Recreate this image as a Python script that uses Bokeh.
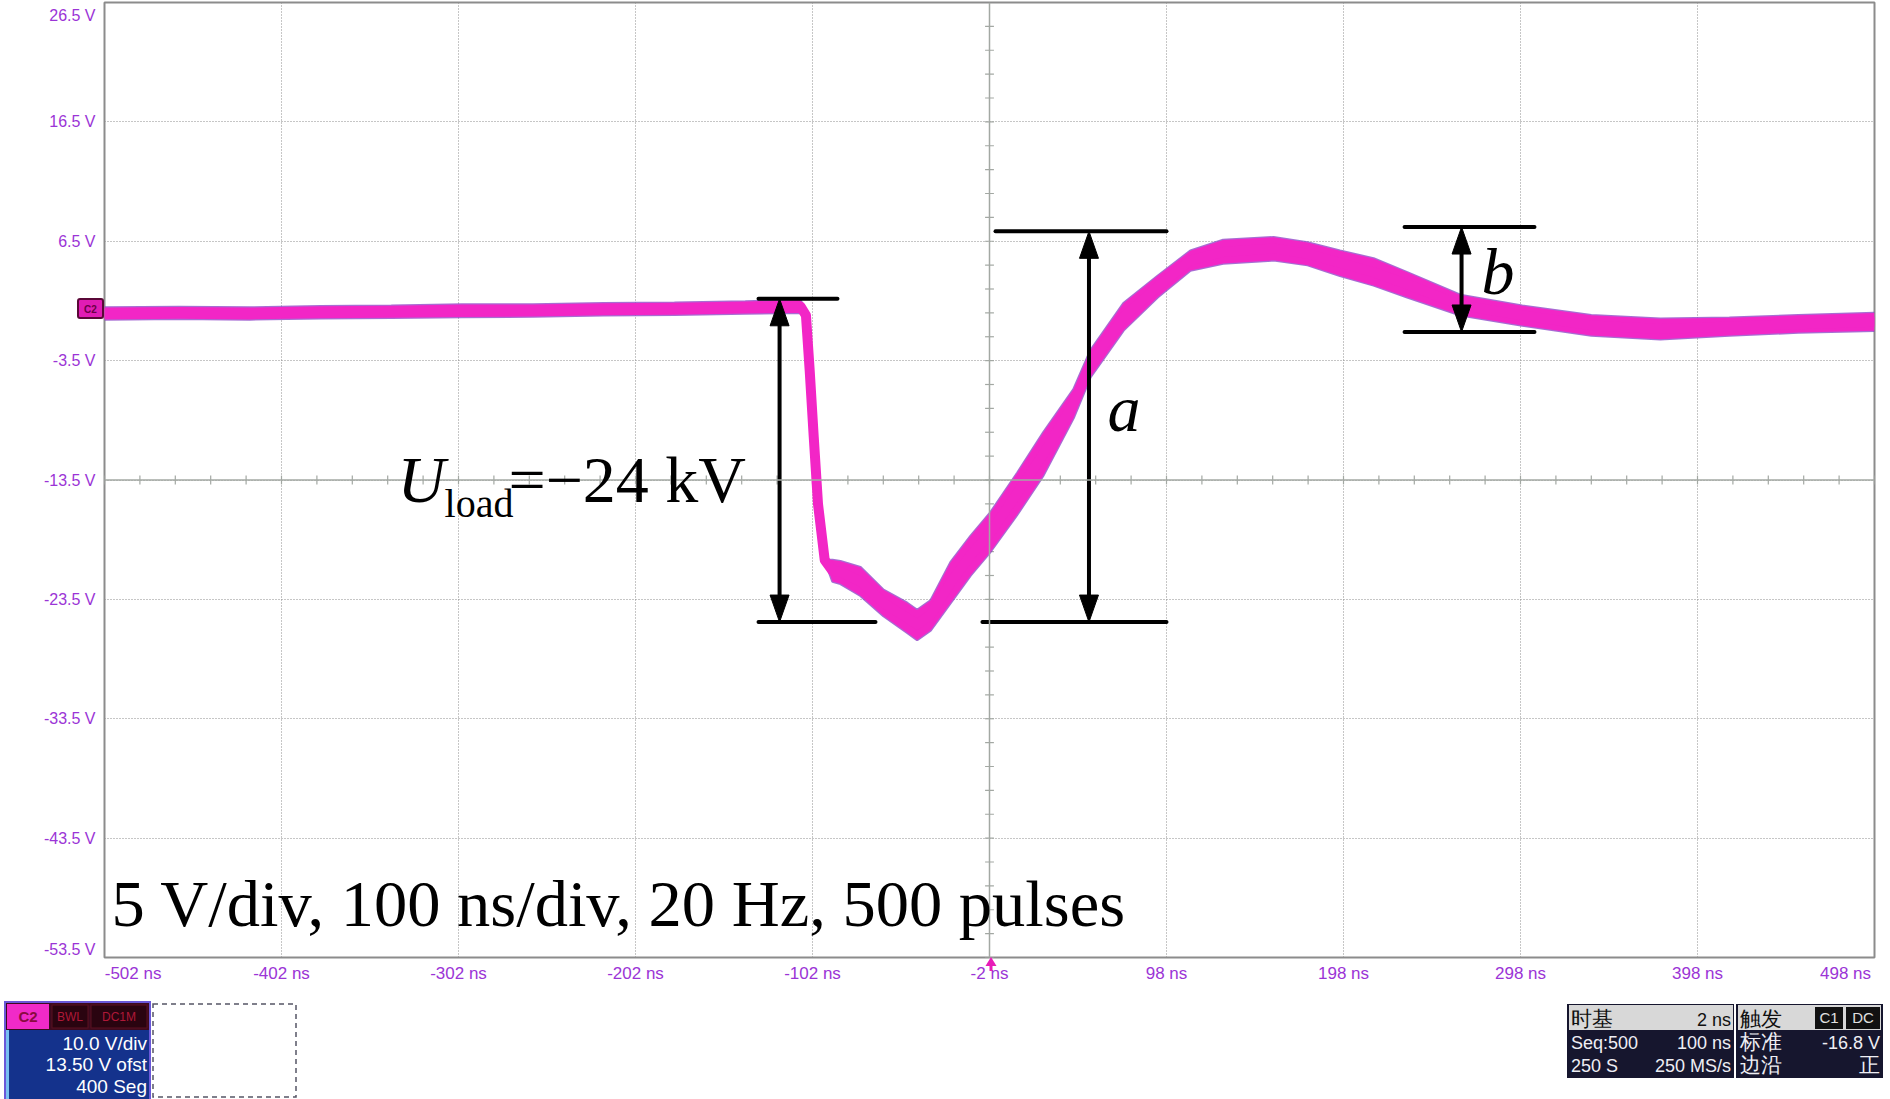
from bokeh.plotting import figure
from bokeh.models import Range1d, FixedTicker, Span, Label, Div
from bokeh.layouts import column
from bokeh.embed import file_html
from bokeh.resources import INLINE

# ---------------- data ----------------
t_ns = [-502, -460, -420, -380, -340, -300, -260, -220, -180, -140, -112,
        -108.8, -105.7, -103.6, -101.3, -98.9, -95.1, -90.7,
        -86.2, -74.9, -61.9, -48.5, -42.9, -35.3, -24.0, -12.7, -1.4,
        13.7, 28.5, 45.5, 55.0, 73.7, 93.0, 111.5, 130.0, 158.5, 177.7,
        196.0, 215.0, 234.0, 264.0, 299.0, 338.0, 377.0, 416.0, 455.0, 498.0]
v_top = [0.95, 1.0, 0.95, 1.05, 1.1, 1.2, 1.2, 1.3, 1.35, 1.45, 1.55,
         1.6, 0.3, -4.3, -9.9, -15.5, -20.2, -20.2,
         -20.3, -20.8, -22.7, -23.8, -24.4, -23.6, -20.4, -18.2, -16.2,
         -12.9, -9.5, -5.9, -2.65, 1.3, 3.6, 5.7, 6.6, 6.84, 6.4,
         5.7, 5.06, 3.9, 2.0, 1.1, 0.3, 0.0, 0.1, 0.3, 0.5]
v_bot = [-0.05, 0.0, -0.05, 0.05, 0.1, 0.15, 0.2, 0.3, 0.35, 0.45, 0.5,
         0.5, 0.3, -4.3, -9.9, -15.5, -20.2, -22.0,
         -22.2, -23.2, -24.9, -26.3, -26.9, -26.1, -23.8, -21.5, -19.5,
         -16.4, -13.1, -8.3, -4.9, -0.97, 1.8, 4.05, 4.64, 4.9, 4.5,
         3.6, 2.8, 1.8, 0.3, -0.55, -1.4, -1.7, -1.4, -1.15, -1.0]
v_mid = [0.45, 0.5, 0.45, 0.55, 0.6, 0.68, 0.7, 0.8, 0.85, 0.95, 1.0,
         1.04, 0.29, -4.3, -9.9, -15.5, -20.2, -21.1,
         -21.2, -22.0, -23.8, -25.05, -25.6, -24.8, -22.1, -19.8, -17.9,
         -14.6, -11.3, -7.1, -3.8, 0.14, 2.7, 4.9, 5.6, 5.9, 5.45,
         4.7, 3.9, 2.9, 1.15, 0.3, -0.55, -0.85, -0.65, -0.45, -0.25]

x_ticks = [-502, -402, -302, -202, -102, -2, 98, 198, 298, 398, 498]
x_tick_labels = ["-502 ns", "-402 ns", "-302 ns", "-202 ns", "-102 ns", "-2 ns",
                 "98 ns", "198 ns", "298 ns", "398 ns", "498 ns"]
y_ticks = [-53.5, -43.5, -33.5, -23.5, -13.5, -3.5, 6.5, 16.5, 26.5]
y_tick_labels = ["-53.5 V", "-43.5 V", "-33.5 V", "-23.5 V", "-13.5 V", "-3.5 V",
                 "6.5 V", "16.5 V", "26.5 V"]

caption = "5 V/div, 100 ns/div, 20 Hz, 500 pulses"

# measurement annotations (data units)
u_arrow = dict(t=-120.6, top=1.68, bot=-25.4, top_l=(-132.5, -87.9), bot_l=(-132.5, -66.4))
a_arrow = dict(t=54.2, top=7.33, bot=-25.4, top_l=(1.4, 98.0), bot_l=(-6.0, 98.0))
b_arrow = dict(t=264.7, top=7.69, bot=-1.1, top_l=(232.5, 305.9), bot_l=(232.5, 305.9))

# ---------------- main scope figure ----------------
FRAME_W, FRAME_H = 1770, 955
PX_PER_NS = FRAME_W / 1000.0
PX_PER_V = FRAME_H / 80.0
TICK_COLOR = "#9b34d6"

p = figure(width=1890, height=1000, x_range=Range1d(-502, 498), y_range=Range1d(-53.5, 26.5),
           output_backend="svg", toolbar_location=None,
           min_border_left=104, min_border_right=16, min_border_top=2, min_border_bottom=43)
p.background_fill_color = "white"
p.border_fill_color = "white"
p.outline_line_color = "#8c8c8c"
p.outline_line_width = 2

# the scope keeps its edge labels inside the screen
x_label_at = list(x_ticks)
x_label_at[0] = x_ticks[0] + 28.6 / PX_PER_NS
x_label_at[-1] = x_ticks[-1] - 29.0 / PX_PER_NS
y_label_at = list(y_ticks)
y_label_at[0] = y_ticks[0] + 8.0 / PX_PER_V
y_label_at[-1] = y_ticks[-1] - 13.0 / PX_PER_V

p.xaxis.ticker = FixedTicker(ticks=x_label_at)
p.yaxis.ticker = FixedTicker(ticks=y_label_at)
p.xaxis.major_label_overrides = {k: v for k, v in zip(x_label_at, x_tick_labels)}
p.yaxis.major_label_overrides = {k: v for k, v in zip(y_label_at, y_tick_labels)}
for ax in (p.xaxis, p.yaxis):
    ax.axis_line_color = None
    ax.major_tick_line_color = None
    ax.minor_tick_line_color = None
    ax.major_tick_out = 0
    ax.major_tick_in = 0
    ax.major_label_text_font = "Liberation Sans"
    ax.major_label_text_color = TICK_COLOR
p.xaxis.major_label_text_font_size = "17px"
p.yaxis.major_label_text_font_size = "16px"
p.xaxis.major_label_standoff = 6
p.yaxis.major_label_standoff = 9

p.xgrid.ticker = FixedTicker(ticks=x_ticks)
p.ygrid.ticker = FixedTicker(ticks=y_ticks)
for g in (p.xgrid, p.ygrid):
    g.grid_line_color = "#8c8c8c"
    g.grid_line_dash = "1 2"
    g.grid_line_width = 1

# center cross with small division ticks
p.add_layout(Span(location=-2, dimension="height", line_color="#a3a8a3", line_width=1.5))
p.add_layout(Span(location=-13.5, dimension="width", line_color="#a3a8a3", line_width=1.5))
hx = [-502 + 20 * i for i in range(51)]
p.segment(x0=hx, x1=hx, y0=[-13.5 - 0.37] * len(hx), y1=[-13.5 + 0.37] * len(hx),
          line_color="#a3a8a3", line_width=1.2)
vy = [-53.5 + 2 * i for i in range(40)]
p.segment(x0=[-2 - 2.5] * len(vy), x1=[-2 + 2.5] * len(vy), y0=vy, y1=vy,
          line_color="#a3a8a3", line_width=1.2)

# waveform band (500 overlaid pulses)
TRACE = "#f226c6"
EDGE = "#8a3cc4"
p.line(t_ns, v_top, line_color=EDGE, line_width=2.5, line_alpha=0.75)
p.line(t_ns, v_bot, line_color=EDGE, line_width=2.5, line_alpha=0.75)
p.varea(x=t_ns, y1=v_bot, y2=v_top, fill_color=TRACE)
p.line(t_ns, v_mid, line_color=TRACE, line_width=10, line_join="round", line_cap="round")

# measurement arrows
HEAD_V = 27 / PX_PER_V
HEAD_T = 9.5 / PX_PER_NS
for arr in (u_arrow, a_arrow, b_arrow):
    t = arr["t"]
    p.segment(x0=[arr["top_l"][0], arr["bot_l"][0], t], x1=[arr["top_l"][1], arr["bot_l"][1], t],
              y0=[arr["top"], arr["bot"], arr["top"] - 1.0], y1=[arr["top"], arr["bot"], arr["bot"] + 1.0],
              line_color="black", line_width=4, line_cap="round")
    p.patches(xs=[[t, t - HEAD_T, t + HEAD_T], [t, t - HEAD_T, t + HEAD_T]],
              ys=[[arr["top"], arr["top"] - HEAD_V, arr["top"] - HEAD_V],
                  [arr["bot"], arr["bot"] + HEAD_V, arr["bot"] + HEAD_V]],
              fill_color="black", line_color="black", line_width=1)

SERIF = "Liberation Serif"
p.add_layout(Label(x=-498.0, y=-48.96, text=caption, text_font=SERIF, text_font_size="66.5px",
                   text_color="black", text_baseline="alphabetic", text_align="left"))
p.add_layout(Label(x=-336.5, y=-13.45, text="U", text_font=SERIF, text_font_style="italic",
                   text_font_size="66px", text_color="black", text_baseline="alphabetic"))
p.add_layout(Label(x=-309.9, y=-15.46, text="load", text_font=SERIF, text_font_size="40px",
                   text_color="black", text_baseline="alphabetic"))
p.add_layout(Label(x=-273.8, y=-13.45, text="=\u221224 kV", text_font=SERIF, text_font_size="66px",
                   text_color="black", text_baseline="alphabetic"))
p.add_layout(Label(x=64.7, y=-7.50, text="a", text_font=SERIF, text_font_style="italic",
                   text_font_size="66px", text_color="black", text_baseline="alphabetic"))
p.add_layout(Label(x=276.0, y=3.97, text="b", text_font=SERIF, text_font_style="italic",
                   text_font_size="66px", text_color="black", text_baseline="alphabetic"))

# ---------------- oscilloscope status bar (page pixels, below the screen) ----------------
SANS = "Liberation Sans"
CJK = "Noto Sans CJK SC"

def rect(x, y, w, h, fill, stroke="none", sw=0, dash=None, rx=0):
    d = f' stroke-dasharray="{dash}"' if dash else ""
    return (f'<rect x="{x}" y="{y}" width="{w}" height="{h}" rx="{rx}" fill="{fill}" '
            f'stroke="{stroke}" stroke-width="{sw}"{d}/>')

def text(x, y, s, size, color, anchor="start", font=SANS, weight="normal"):
    return (f'<text x="{x}" y="{y}" text-anchor="{anchor}" font-family="{font}" '
            f'font-size="{size}" font-weight="{weight}" fill="{color}">{s}</text>')

parts = [
    # channel marker at the left edge of the screen and trigger-position marker
    rect(78, 299, 25, 19, "#e01cb4", "#5a0838", 2, rx=2),
    text(90.5, 312.5, "C2", 10, "#6a0046", "middle", weight="bold"),
    '<polygon points="991,957 985.5,966 996.5,966" fill="#e81cb8"/>',
    rect(989.5, 965, 3, 6, "#e81cb8"),
    # channel box
    rect(4, 1001, 147, 98, "#6a58d8"),
    rect(6, 1003, 143, 27, "#3c0a1e"),
    rect(7, 1004, 42, 25, "#f02ac8"),
    rect(52, 1005, 36, 23, "#2a0410", "#5a1020", 1),
    rect(91, 1005, 56, 23, "#2a0410", "#5a1020", 1),
    rect(6, 1030, 143, 69, "#14328c"),
    rect(6, 1030, 3, 69, "#78c0f0"),
    text(28, 1022, "C2", 15, "#8a0a40", "middle", weight="bold"),
    text(70, 1021, "BWL", 12, "#b01838", "middle"),
    text(119, 1021, "DC1M", 12, "#b01838", "middle"),
    text(147, 1050, "10.0 V/div", 19, "white", "end"),
    text(147, 1071, "13.50 V ofst", 19, "white", "end"),
    text(147, 1093, "400 Seg", 19, "white", "end"),
    rect(153, 1004, 143, 93, "none", "#555566", 1.5, dash="5 4"),
    # time base panel
    rect(1567, 1004, 167, 74, "#16162e"),
    rect(1569, 1005, 164, 25, "#d8d8d8"),
    text(1571, 1026, "时基", 21, "#101010", font=CJK),
    text(1731, 1026, "2 ns", 18, "#101010", "end"),
    text(1571, 1049, "Seq:500", 18, "#eeeef4"),
    text(1731, 1049, "100 ns", 18, "#eeeef4", "end"),
    text(1571, 1072, "250 S", 18, "#eeeef4"),
    text(1731, 1072, "250 MS/s", 18, "#eeeef4", "end"),
    # trigger panel
    rect(1736, 1004, 147, 74, "#16162e"),
    rect(1738, 1005, 143, 25, "#d8d8d8"),
    rect(1815, 1007, 28, 22, "#111111"),
    rect(1846, 1007, 34, 22, "#111111"),
    text(1740, 1026, "触发", 21, "#101010", font=CJK),
    text(1829, 1023, "C1", 15, "#e0e0e0", "middle"),
    text(1863, 1023, "DC", 15, "#e0e0e0", "middle"),
    text(1740, 1049, "标准", 21, "#eeeef4", font=CJK),
    text(1880, 1049, "-16.8 V", 18, "#eeeef4", "end"),
    text(1740, 1072, "边沿", 21, "#eeeef4", font=CJK),
    text(1880, 1072, "正", 21, "#eeeef4", "end", font=CJK),
]
svg = ('<svg xmlns="http://www.w3.org/2000/svg" width="1890" height="99" viewBox="0 1000 1890 99" '
       'style="overflow:visible;display:block;position:absolute;left:0;top:0">' + "".join(parts) + "</svg>")
status = Div(text=svg, width=1890, height=99, margin=0,
             styles={"overflow": "visible", "padding": "0"})

layout = column(p, status, spacing=0)
open("out.html", "w").write(file_html(layout, INLINE))
